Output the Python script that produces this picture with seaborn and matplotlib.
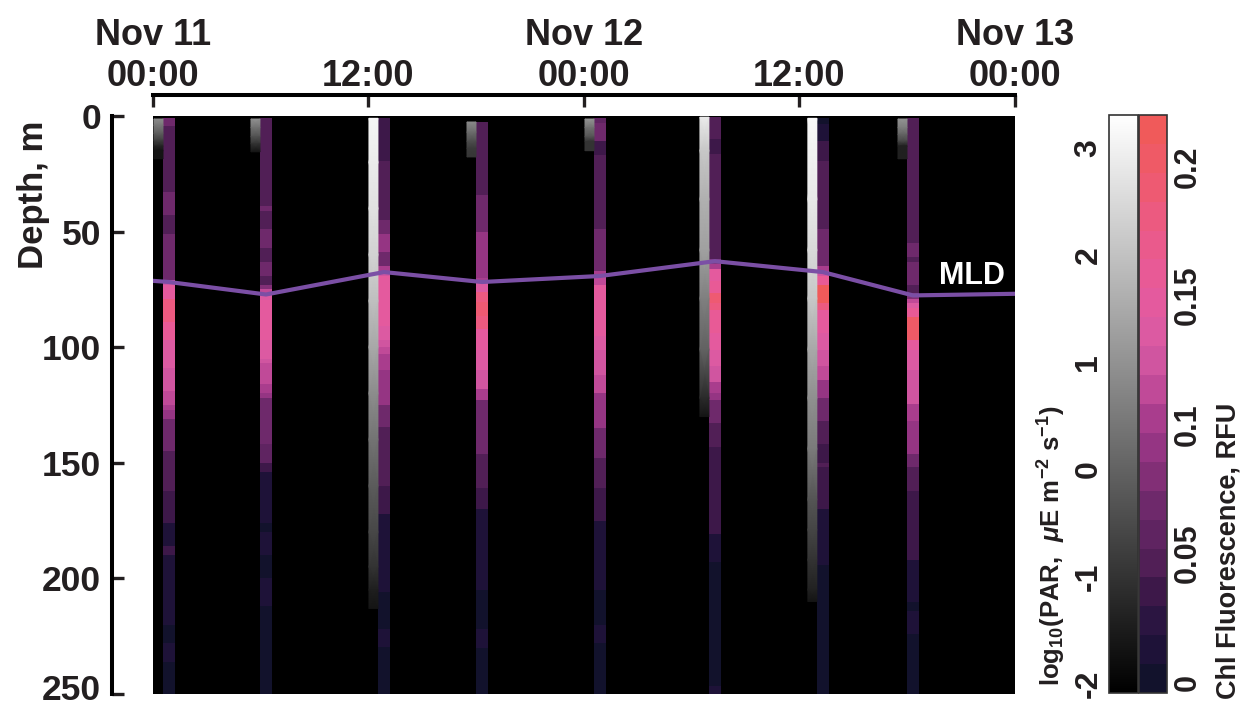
import matplotlib
matplotlib.use("Agg")
import matplotlib.pyplot as plt
import numpy as np
import seaborn as sns
from matplotlib.colors import ListedColormap, Normalize
from matplotlib.cm import ScalarMappable
from matplotlib.transforms import ScaledTranslation

# ---------------------------------------------------------------- data
# profile times, hours since Nov 11 00:00
profile_times = [0.89, 6.29, 12.86, 18.32, 24.89, 31.29, 37.30, 42.32]

# chlorophyll fluorescence (RFU): depth-bin edges (m) and bin values per profile
chl_edges = [
    [1, 4.5, 33, 43, 51, 71, 73, 79, 89, 97, 109, 119, 125, 127, 131, 145, 162, 176, 186, 190, 220, 228, 236, 251],
    [1, 39, 41, 49, 57, 63, 69, 73, 75, 77, 79.5, 89, 97, 105, 107, 116, 120, 122, 142, 150, 154, 176, 180, 190, 200, 212, 251],
    [1, 19.5, 45, 51, 59, 65, 67, 69, 83, 91, 97, 100, 103, 110, 125, 134.5, 160, 172, 206, 222, 229.5, 251],
    [2.6, 34, 50, 70, 72, 76, 80.5, 86.5, 92, 101, 110, 118, 123, 146, 161, 170, 205, 222, 230, 252],
    [1, 3, 11, 17, 49, 67, 69, 73, 95, 101, 112, 120, 135, 148, 161, 175, 205, 220, 228, 251],
    [0.5, 10, 16.5, 62, 64, 66, 71.5, 76.5, 81, 84, 94, 101, 108, 115, 120, 123, 133, 143, 181, 193, 246.5, 252],
    [1, 3.5, 11, 19.5, 49, 65, 67, 69, 73, 81, 84, 94, 101, 108, 114, 122, 132, 142, 150, 152, 170, 194, 251],
    [1, 55, 61, 63, 73, 76.5, 79, 81, 83, 87, 97, 101, 110, 118, 124.5, 132, 146, 152, 162, 192, 210, 214, 224, 251],
]
chl_values = [
    [0.069, 0.046, 0.069, 0.046, 0.069, 0.122, 0.142, 0.181, 0.158, 0.138, 0.125, 0.114, 0.100, 0.088, 0.069, 0.046, 0.035, 0.013, 0.035, 0.013, 0.002, 0.013, 0.002],
    [0.046, 0.069, 0.046, 0.069, 0.046, 0.069, 0.046, 0.080, 0.114, 0.138, 0.152, 0.145, 0.136, 0.125, 0.114, 0.100, 0.088, 0.069, 0.058, 0.035, 0.013, 0.002, 0.013, 0.002, 0.013, 0.002],
    [0.035, 0.046, 0.069, 0.088, 0.069, 0.100, 0.122, 0.152, 0.142, 0.136, 0.122, 0.114, 0.100, 0.088, 0.069, 0.046, 0.035, 0.013, 0.002, 0.013, 0.002],
    [0.046, 0.069, 0.088, 0.100, 0.138, 0.178, 0.197, 0.178, 0.152, 0.138, 0.125, 0.100, 0.069, 0.046, 0.035, 0.013, 0.002, 0.013, 0.002],
    [0.058, 0.069, 0.035, 0.046, 0.069, 0.100, 0.116, 0.150, 0.138, 0.130, 0.116, 0.088, 0.069, 0.046, 0.035, 0.013, 0.002, 0.013, 0.002],
    [0.046, 0.035, 0.046, 0.080, 0.100, 0.142, 0.155, 0.197, 0.178, 0.155, 0.142, 0.136, 0.122, 0.100, 0.088, 0.069, 0.046, 0.035, 0.013, 0.002, 0.013],
    [0.002, 0.013, 0.035, 0.046, 0.069, 0.100, 0.125, 0.155, 0.210, 0.178, 0.150, 0.138, 0.125, 0.110, 0.088, 0.069, 0.046, 0.035, 0.046, 0.035, 0.013, 0.002],
    [0.046, 0.069, 0.046, 0.069, 0.046, 0.080, 0.114, 0.138, 0.155, 0.203, 0.150, 0.138, 0.130, 0.122, 0.100, 0.088, 0.069, 0.046, 0.035, 0.013, 0.002, 0.013, 0.002],
]

# log10 PAR (uE m-2 s-1) sampled at depth nodes (m) per profile
par_depths = [
    [1.3, 4, 7.5, 10.5, 13, 15, 18.5],
    [1.3, 5, 9, 12, 15.5],
    [1, 20, 40, 60, 80, 100, 120, 140, 160, 180, 195, 205, 213],
    [2.6, 7, 11, 14, 17.7],
    [1.3, 5, 9, 11, 15],
    [0.5, 15, 36, 58, 79, 101, 122, 130],
    [1, 36, 58, 79, 101, 122, 144, 166, 179, 192, 205, 210],
    [1.3, 5, 8, 11, 13, 18.5],
]
par_values = [
    [0.85, 0.45, -0.10, -0.70, -1.30, -1.66, -1.66],
    [0.95, 0.30, -0.40, -1.00, -1.66],
    [3.10, 2.88, 2.66, 2.34, 1.96, 1.47, 0.88, 0.34, -0.15, -0.58, -1.01, -1.44, -1.66],
    [0.80, 0.20, -0.45, -0.85, -0.95],
    [1.05, 0.30, -0.30, -1.00, -1.00],
    [2.85, 2.12, 1.64, 1.30, 0.61, -0.04, -1.20, -1.66],
    [3.15, 2.82, 2.50, 2.12, 1.47, 0.94, 0.50, -0.30, -0.63, -1.01, -1.39, -1.66],
    [1.00, 0.55, 0.00, -0.60, -1.40, -1.40],
]

# mixed layer depth (m)
mld_times = [0, 0.89, 6.29, 12.86, 18.32, 24.89, 31.29, 37.30, 42.32, 48]
mld_depths = [71.3, 71.8, 77.2, 67.5, 71.8, 69.2, 62.8, 67.5, 77.6, 76.9]

# axis ticks
time_ticks = [0, 12, 24, 36, 48]
time_labels = ["Nov 11\n00:00", "12:00", "Nov 12\n00:00", "12:00", "Nov 13\n00:00"]
depth_ticks = [0, 50, 100, 150, 200, 250]
par_ticks = [-2, -1, 0, 1, 2, 3]
chl_ticks = [0, 0.05, 0.1, 0.15, 0.2]
chl_tick_labels = ["0", "0.05", "0.1", "0.15", "0.2"]

# ---------------------------------------------------------------- style
sns.set_theme(style="white")
plt.rcParams["font.family"] = ["Liberation Sans", "DejaVu Sans"]
plt.rcParams["font.weight"] = "bold"
plt.rcParams["axes.unicode_minus"] = False
plt.rcParams["mathtext.fontset"] = "custom"
plt.rcParams["mathtext.rm"] = "Liberation Sans:bold"
plt.rcParams["mathtext.it"] = "Liberation Sans:italic"
plt.rcParams["mathtext.bf"] = "Liberation Sans:bold"

TEXT = "#231f20"

chl_colors = ["#12122c", "#1e1238", "#2b1541", "#3d1849", "#511f56",
              "#5f2461", "#6e296b", "#822f76", "#953583", "#a93d8d",
              "#c04a98", "#d055a0", "#dc5aa2", "#e45a9e", "#e85a96",
              "#ea5a8c", "#ec5a80", "#ee5a72", "#ef5a66", "#f05a5a"]
chl_cmap = ListedColormap(sns.color_palette(chl_colors))
chl_norm = Normalize(vmin=-0.004, vmax=0.22)
par_cmap = plt.get_cmap("gray")
par_norm = Normalize(vmin=-2.09, vmax=3.31)

CHL_W = 0.67   # strip widths in hours
PAR_W = 0.50

W, H = 1241, 710
fig = plt.figure(figsize=(W / 100, H / 100), dpi=100)
ax = fig.add_axes([153 / W, 1 - 694 / H, 862 / W, 578 / H])
ax.set_facecolor("black")

# profile strips: PAR on the left, chlorophyll on the right of each cast time
for t, ce, cv, pd_, pv in zip(profile_times, chl_edges, chl_values, par_depths, par_values):
    xe = [t - CHL_W / 2, t + CHL_W / 2]
    ax.pcolormesh(xe, np.asarray(ce, dtype=float), np.asarray(cv)[:, None],
                  cmap=chl_cmap, norm=chl_norm, shading="flat", zorder=2)
    x0, x1 = t - CHL_W / 2 - PAR_W, t - CHL_W / 2
    d = np.asarray(pd_, dtype=float)
    X = np.column_stack([np.full(d.size, x0), np.full(d.size, x1)])
    Y = np.column_stack([d, d])
    C = np.column_stack([pv, pv])
    ax.pcolormesh(X, Y, C, cmap=par_cmap, norm=par_norm, shading="gouraud", zorder=2)

# mixed layer depth
sns.lineplot(x=mld_times, y=mld_depths, ax=ax, color="#7b4fa5", lw=3.0,
             sort=False, zorder=5)
ax.text(45.6, 69, "MLD", color="white", fontsize=22, fontweight="bold",
        ha="center", va="center", zorder=6)

ax.set_xlim(0, 48)
ax.set_ylim(250, 0)
ax.set_xlabel("")
ax.set_ylabel("")

for s in ["right", "bottom"]:
    ax.spines[s].set_visible(False)
for s, off in [("left", 29.5), ("top", 15)]:
    ax.spines[s].set_visible(True)
    ax.spines[s].set_position(("outward", off))
    ax.spines[s].set_linewidth(2.9)
    ax.spines[s].set_color("black")

ax.xaxis.tick_top()
ax.set_xticks(time_ticks)
ax.set_xticklabels(time_labels)
ax.set_yticks(depth_ticks)
ax.set_yticklabels([str(v) for v in depth_ticks])
ax.tick_params(axis="x", direction="in", length=8.6, width=2.4, pad=1,
               labelsize=26, colors=TEXT, top=True, bottom=False)
ax.tick_params(axis="y", direction="in", length=8.6, width=2.4, pad=8,
               labelsize=25.5, colors=TEXT, left=True, right=False)
for lab in ax.get_xticklabels() + ax.get_yticklabels():
    lab.set_fontweight("bold")
# lift the deepest label slightly so it stays inside the figure
last = ax.get_yticklabels()[-1]
last.set_transform(last.get_transform() + ScaledTranslation(0, 5 / 72, fig.dpi_scale_trans))

fig.text(33 / W, 1 - 195 / H, "Depth, m", rotation=90, ha="center", va="center",
         fontsize=25, fontweight="bold", color=TEXT)

# colorbars
cax_par = fig.add_axes([1109 / W, 1 - 693 / H, 29 / W, 578 / H])
cb_par = fig.colorbar(ScalarMappable(norm=par_norm, cmap=par_cmap), cax=cax_par)
cb_par.set_ticks(par_ticks)
cax_par.yaxis.set_ticks_position("left")
cax_par.tick_params(direction="in", length=5, width=1.2, labelsize=23, pad=4,
                    colors=TEXT)
for lab in cax_par.get_yticklabels():
    lab.set_rotation(90)
    lab.set_va("center")
    lab.set_fontweight("bold")

cax_chl = fig.add_axes([1139 / W, 1 - 693 / H, 28 / W, 578 / H])
cb_chl = fig.colorbar(ScalarMappable(norm=chl_norm, cmap=chl_cmap), cax=cax_chl)
cb_chl.set_ticks(chl_ticks)
cb_chl.set_ticklabels(chl_tick_labels)
cax_chl.yaxis.set_ticks_position("right")
cax_chl.tick_params(direction="in", length=5, width=1.2, labelsize=22, pad=4,
                    colors=TEXT)
for lab in cax_chl.get_yticklabels():
    lab.set_rotation(90)
    lab.set_va("center")
    lab.set_fontweight("bold")

for cb in (cb_par, cb_chl):
    cb.outline.set_linewidth(1.2)
    cb.outline.set_edgecolor("#333333")

fig.text(1052 / W, 1 - 546 / H,
         r"log$_{10}$(PAR,  $\mu$E m$^{-2}$ s$^{-1}$)",
         rotation=90, ha="center", va="center", fontsize=18.5,
         fontweight="bold", color=TEXT)
fig.text(1228 / W, 1 - 551 / H, "Chl Fluorescence, RFU", rotation=90,
         ha="center", va="center", fontsize=19.5, fontweight="bold", color=TEXT)

fig.savefig("out.png", dpi=100, facecolor="white")
